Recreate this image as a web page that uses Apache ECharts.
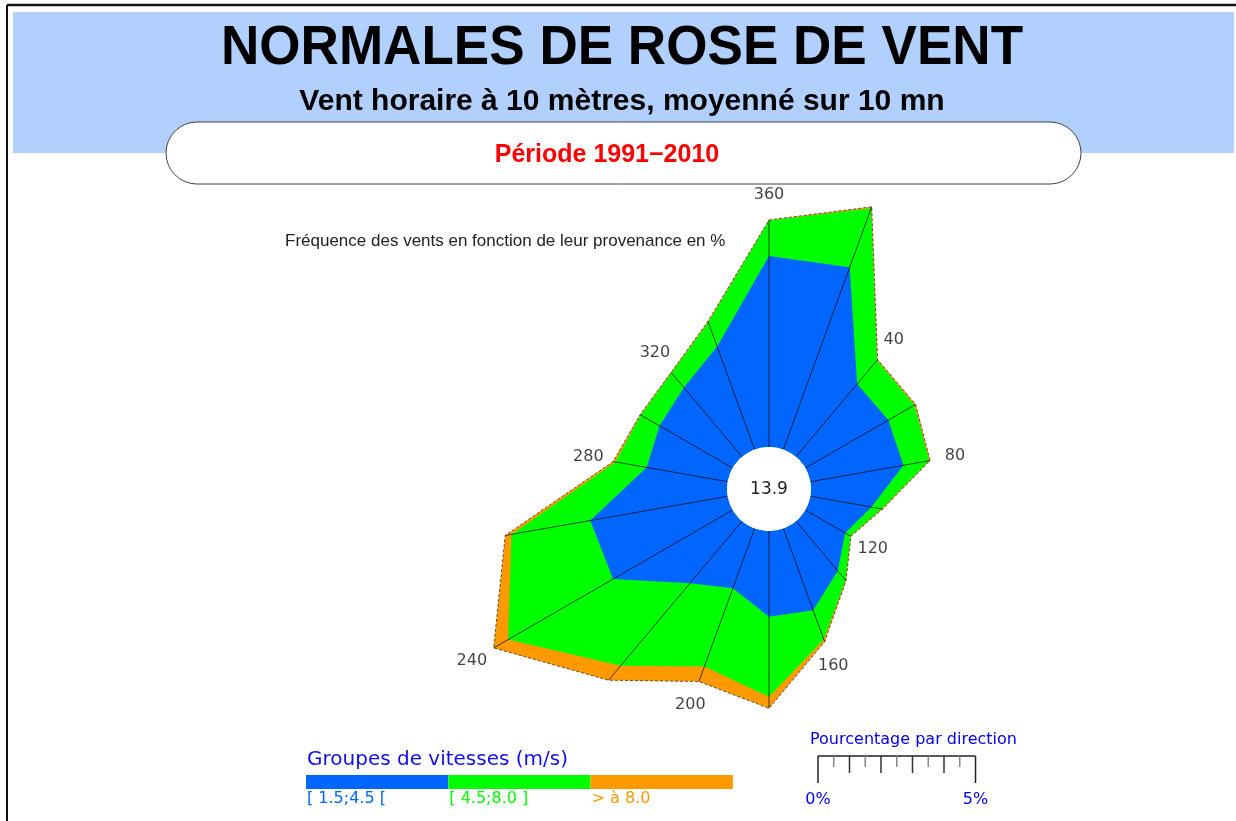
<!DOCTYPE html>
<html>
<head>
<meta charset="utf-8">
<script src="https://cdn.jsdelivr.net/npm/echarts@6/dist/echarts.min.js"></script>
<style>
  html, body { margin: 0; padding: 0; background: #fff; }
  #main { width: 1236px; height: 821px; }
</style>
</head>
<body>
<div id="main"></div>
<script>
// directions de provenance (degres)
const directions = [20, 40, 60, 80, 100, 120, 140, 160, 180, 200, 220, 240, 260, 280, 300, 320, 340, 360];
// frequences en % par groupe de vitesse
const vitesse1 = [6.16, 3.02, 3.04, 3.00, 1.97, 1.46, 2.06, 2.76, 2.72, 2.02, 2.57, 4.38, 4.43, 2.61, 2.68, 2.87, 3.48, 6.06]; // [1.5;4.5[
const vitesse2 = [1.99, 0.98, 0.96, 0.83, 0.33, 0.19, 0.39, 0.99, 2.54, 2.64, 3.42, 3.85, 2.54, 1.01, 0.69, 0.61, 0.82, 1.13]; // [4.5;8.0]
const vitesse3 = [0.05, 0.03, 0.04, 0.03, 0.03, 0.02, 0.02, 0.08, 0.37, 0.51, 0.60, 0.53, 0.20, 0.07, 0.02, 0.02, 0.03, 0.02]; // > 8.0
const calme = 13.9;
const labelDirections = [40, 80, 120, 160, 200, 240, 280, 320, 360];
const groupNames = ['[ 1.5;4.5 [', '[ 4.5;8.0 ]', '> à 8.0'];
const groupColors = ['#0066ff', '#00ff00', '#ff9900'];
const scaleLabels = ['0%', '5%'];

const cx = 769, cy = 489;
const innerPx = 42;      // rayon du cercle des calmes
const pxPerPct = 31.5;   // echelle : px pour 1 %
const outerPx = 400;

// cumuls
const cum1 = vitesse1.slice();
const cum2 = vitesse1.map((v, i) => v + vitesse2[i]);
const cum3 = cum2.map((v, i) => v + vitesse3[i]);

// polygone ferme : on commence par 360 place a l'angle 0
function ring(vals) {
  const n = vals.length;
  const pts = [[vals[n - 1], 0]];
  for (let i = 0; i < n; i++) pts.push([vals[i], directions[i]]);
  return pts;
}

function areaSeries(vals, color, withLine) {
  return {
    type: 'line',
    coordinateSystem: 'polar',
    data: ring(vals),
    symbol: 'none',
    smooth: false,
    silent: true,
    lineStyle: withLine ? { color: '#333', width: 0.8, type: [3, 2] } : { width: 0 },
    areaStyle: { color: color, opacity: 1 }
  };
}

// un rayon par direction
const spokes = directions.map((d, i) => ({
  type: 'line',
  coordinateSystem: 'polar',
  data: [[0, d], [cum3[i], d]],
  symbol: 'none',
  silent: true,
  lineStyle: { color: '#000', width: 0.7 }
}));

const chart = echarts.init(document.getElementById('main'));

// regle de l'echelle
const sx = 818, sy = 756;
const scaleEls = [
  { type: 'line', shape: { x1: sx, y1: sy, x2: sx + 5 * pxPerPct, y2: sy }, style: { stroke: '#222', lineWidth: 1.5 } }
];
for (let k = 0; k <= 10; k++) {
  const x = sx + k * pxPerPct / 2;
  let len = 11, col = '#888';
  if (k === 0 || k === 10) { len = 27; col = '#222'; }
  else if (k % 2 === 0) { len = 17; col = '#333'; }
  scaleEls.push({ type: 'line', shape: { x1: x, y1: sy, x2: x, y2: sy + len }, style: { stroke: col, lineWidth: 1.5 } });
}
scaleEls.push({ type: 'text', x: sx, y: 800, style: { text: scaleLabels[0], fill: '#0000ee', font: '16px "DejaVu Sans"', align: 'center', verticalAlign: 'middle' } });
scaleEls.push({ type: 'text', x: sx + 5 * pxPerPct, y: 800, style: { text: scaleLabels[1], fill: '#0000ee', font: '16px "DejaVu Sans"', align: 'center', verticalAlign: 'middle' } });

// barre de legende
const legendEls = [];
for (let g = 0; g < 3; g++) {
  legendEls.push({ type: 'rect', shape: { x: 306 + g * 142.3, y: 775, width: 142.3, height: 14 }, style: { fill: groupColors[g] } });
  legendEls.push({ type: 'text', x: 307 + g * 142.3, y: 799, style: { text: groupNames[g], fill: groupColors[g], font: '16px "DejaVu Sans"', verticalAlign: 'middle' } });
}

const option = {
  backgroundColor: '#ffffff',
  animation: false,
  polar: { center: [cx, cy], radius: [innerPx, outerPx] },
  angleAxis: {
    type: 'value', min: 0, max: 360, startAngle: 90, clockwise: true,
    axisLine: { show: false }, axisTick: { show: false }, axisLabel: { show: false }, splitLine: { show: false }
  },
  radiusAxis: {
    type: 'value', min: 0, max: (outerPx - innerPx) / pxPerPct,
    axisLine: { show: false }, axisTick: { show: false }, axisLabel: { show: false }, splitLine: { show: false }
  },
  series: [
    areaSeries(cum3, groupColors[2], true),
    areaSeries(cum2, groupColors[1], false),
    areaSeries(cum1, groupColors[0], false)
  ].concat(spokes, [
    {
      // etiquettes des directions
      type: 'scatter',
      coordinateSystem: 'polar',
      symbolSize: 0,
      silent: true,
      data: labelDirections.map(d => [cum3[directions.indexOf(d)] + 0.8, d]),
      label: {
        show: true, position: 'inside',
        formatter: p => String(p.value[1]),
        color: '#111', fontFamily: 'DejaVu Sans', fontSize: 16
      }
    }
  ]),
  graphic: [
    // cadre
    { type: 'rect', shape: { x: 13, y: 12, width: 1221, height: 141 }, style: { fill: '#b1d0fe' }, z: -10 },
    { type: 'line', shape: { x1: 7, y1: 5, x2: 1236, y2: 5 }, style: { stroke: '#111', lineWidth: 2.5 } },
    { type: 'line', shape: { x1: 7, y1: 5, x2: 7, y2: 821 }, style: { stroke: '#111', lineWidth: 2 } },
    { type: 'text', x: 622, y: 49, scaleX: 0.965, style: { text: 'NORMALES DE ROSE DE VENT', fill: '#000', font: 'bold 55px "Liberation Sans"', align: 'center', verticalAlign: 'middle' } },
    { type: 'text', x: 622, y: 102, style: { text: 'Vent horaire à 10 mètres, moyenné sur 10 mn', fill: '#000', font: 'bold 30px "Liberation Sans"', align: 'center', verticalAlign: 'middle' } },
    { type: 'rect', shape: { x: 166, y: 122, width: 915, height: 62, r: 31 }, style: { fill: '#fff', stroke: '#444', lineWidth: 1 } },
    { type: 'text', x: 607, y: 155, style: { text: 'Période 1991\u22122010', fill: '#ff0000', font: 'bold 25px "Liberation Sans"', align: 'center', verticalAlign: 'middle' } },
    { type: 'text', x: 285, y: 241, style: { text: 'Fréquence des vents en fonction de leur provenance en %', fill: '#222', font: '17px "Liberation Sans"', verticalAlign: 'middle' } },
    // cercle des calmes
    { type: 'circle', shape: { cx: cx, cy: cy, r: innerPx }, style: { fill: '#fff' }, z: 100 },
    { type: 'text', x: cx, y: cy + 1, z: 101, style: { text: String(calme), fill: '#222', font: '17px "DejaVu Sans"', align: 'center', verticalAlign: 'middle' } },
    // legende
    { type: 'text', x: 307, y: 760, style: { text: 'Groupes de vitesses (m/s)', fill: '#1010ee', font: '20px "DejaVu Sans"', verticalAlign: 'middle' } },
    { type: 'text', x: 810, y: 740, style: { text: 'Pourcentage par direction', fill: '#0000ee', font: '16px "DejaVu Sans"', verticalAlign: 'middle' } }
  ].concat(legendEls, scaleEls)
};

chart.setOption(option);
</script>
</body>
</html>
